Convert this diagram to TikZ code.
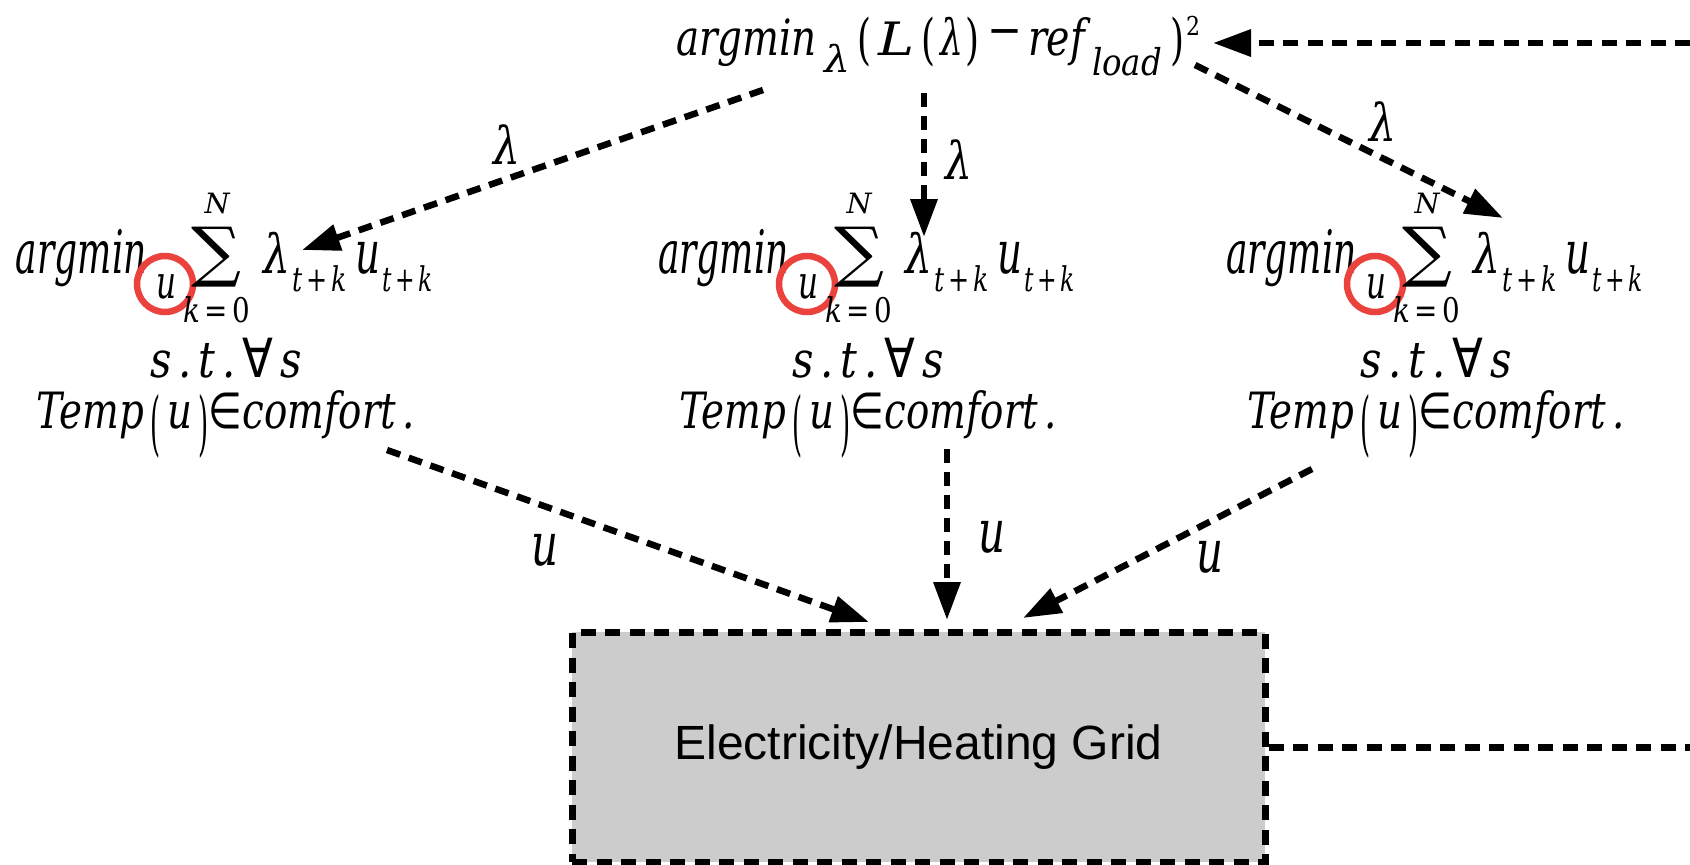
\documentclass[tikz,border=0pt]{standalone}
\usepackage{fontspec}
\usepackage{graphicx}
\setmainfont{DejaVu Serif}
\newfontfamily\sansf{Liberation Sans}
\newfontfamily\symf{DejaVu Sans}
\usetikzlibrary{arrows.meta}
\definecolor{ringred}{RGB}{236,66,62}
\definecolor{boxgray}{RGB}{204,204,204}
\newcommand\fw[3]{\resizebox{#1pt}{\height}{\fontsize{#2pt}{#2pt}\selectfont #3}}
\newcommand\tallpar[3]{\resizebox*{#1pt}{#2pt}{\upshape #3}}
\tikzset{
  txt/.style={inner sep=0pt, outer sep=0pt, anchor=base west, font=\itshape},
  lbl/.style={inner sep=0pt, outer sep=0pt, font=\itshape},
  parn/.style={inner sep=0pt, outer sep=0pt, anchor=south west},
  conn/.style={line width=6.5pt, dash pattern=on 14pt off 9pt, -{Triangle[length=38pt,width=26pt]}},
  dline/.style={line width=7pt, dash pattern=on 15pt off 9.5pt},
  ring/.style={draw=ringred, line width=6.5pt, circle, minimum size=56pt, inner sep=0pt},
  gridbox/.style={draw, fill=boxgray, line width=7pt, dash pattern=on 15pt off 9.5pt,
    minimum width=693pt, minimum height=230pt, inner sep=0pt,
    font=\sansf\fontsize{48pt}{48pt}\selectfont}
}
\newcommand\formblock[2]{%
\begin{scope}[xshift=#1pt]
  \node[txt] (#2arg) at (16,273) {\fw{131}{60}{argmin}};
  \node[txt, anchor=base] (#2u) at (166,298) {\fw{20}{46}{u}};
  \node[ring] (#2ring) at (165,284) {};
  \node[inner sep=0pt] (#2sum) at (217,257) {\resizebox*{50pt}{60pt}{\upshape ∑}};
  \node[txt, anchor=base] (#2N) at (217,213) {\fw{25}{28}{N}};
  \node[txt] (#2k) at (183,322) {\fw{67}{34}{k\,\upshape=\,0}};
  \node[txt] (#2lam) at (263,273) {\fw{27}{54}{λ}};
  \node[txt] (#2sa) at (292,291) {\fw{55}{34}{t\,\upshape+\,\itshape k}};
  \node[txt] (#2uu) at (355,273) {\fw{25}{60}{u}};
  \node[txt] (#2sb) at (382,291) {\fw{51}{34}{t\,\upshape+\,\itshape k}};
  \node[txt] (#2st) at (150,377) {\fw{152}{50}{s\,.\,t\,.\,{\symf\upshape\fontsize{54pt}{54pt}\selectfont ∀}\,s}};
  \node[txt] (#2tmp) at (37,428) {\fw{378}{50}{Temp\,\raisebox{-19pt}{\tallpar{13}{64}{(}}\,u\,\raisebox{-19pt}{\tallpar{13}{64}{)}}{\symf\upshape ∈}comfort\,.}};
\end{scope}}
\begin{document}
\begin{tikzpicture}[x=1pt, y=-1pt]
\useasboundingbox (0,0) rectangle (1690,865);

% top formula
\node[txt] (targ) at (676,55) {\fw{141}{50}{argmin}};
\node[txt] (tlsub) at (824,72) {\fw{26}{37}{λ}};
\node[parn] (tpa) at (857,67) {\tallpar{14}{50}{(}};
\node[txt] (tL) at (878,55) {\fw{36}{46}{L}};
\node[parn] (tpb) at (921,67) {\tallpar{14}{50}{(}};
\node[txt] (tlam) at (940,55) {\fw{23}{50}{λ}};
\node[parn] (tpc) at (965,67) {\tallpar{14}{50}{)}};
\node[inner sep=0pt] (tminus) at (1005,38) {\resizebox{35pt}{\height}{\fontsize{48pt}{48pt}\selectfont\upshape −}};
\node[txt] (tref) at (1028,55) {\fw{57}{50}{ref}};
\node[txt] (tload) at (1092,75) {\fw{70}{37}{load}};
\node[parn] (tpd) at (1170,67) {\tallpar{14}{50}{)}};
\node[inner sep=0pt, anchor=north west] (tsq) at (1186,16) {\fw{14}{26}{\upshape 2}};

% three blocks
\formblock{0}{A}
\formblock{642}{B}
\formblock{1210}{C}

% grid box
\node[gridbox] (grid) at (918.5,747) {Electricity/Heating Grid};

% coordinates
\coordinate (a1s) at (763,90);   \coordinate (a1e) at (302,250);
\coordinate (a2s) at (924,93);   \coordinate (a2e) at (924,237);
\coordinate (a3s) at (1195,65);  \coordinate (a3e) at (1503,218);
\coordinate (b1s) at (387,450);  \coordinate (b1e) at (869,622);
\coordinate (b2s) at (947,449);  \coordinate (b2e) at (947,620);
\coordinate (b3s) at (1312,469); \coordinate (b3e) at (1023,618);
\coordinate (rin) at (1690,43);  \coordinate (tin) at (1213,43);
\coordinate (rout) at (1690,747);

% connectors
\draw[conn] (a1s) -- (a1e);
\draw[conn] (a2s) -- (a2e);
\draw[conn] (a3s) -- (a3e);
\draw[conn] (b1s) -- (b1e);
\draw[conn] (b2s) -- (b2e);
\draw[conn] (b3s) -- (b3e);
\draw[conn, dash pattern=on 15pt off 9.5pt] (rin) -- (tin);
\draw[dline] (grid.east) -- (rout);

% labels
\node[lbl] (la) at (507,145) {\fw{27}{52}{λ}};
\node[lbl] (lb) at (959,160) {\fw{27}{52}{λ}};
\node[lbl] (lc) at (1383,122) {\fw{27}{52}{λ}};
\node[lbl] (ua) at (545,550) {\fw{27}{60}{u}};
\node[lbl] (ub) at (992,537) {\fw{27}{60}{u}};
\node[lbl] (uc) at (1210,557) {\fw{27}{60}{u}};
\end{tikzpicture}
\end{document}
